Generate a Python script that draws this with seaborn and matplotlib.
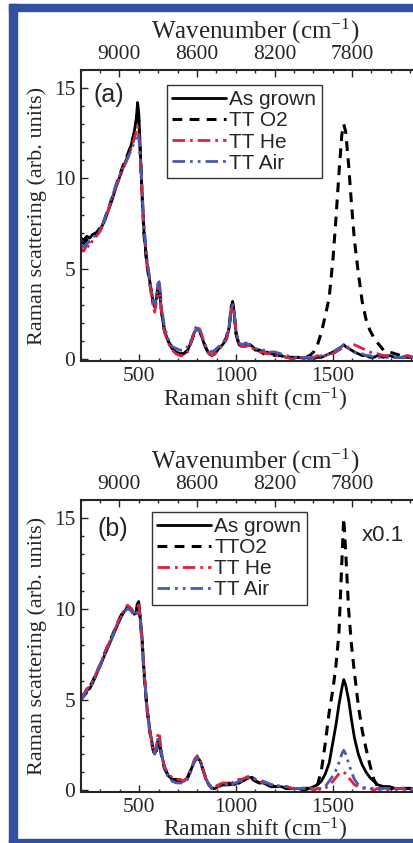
"""Raman spectra of as-grown and thermally treated samples, panels (a) and (b)."""

import matplotlib

matplotlib.use("Agg")
import matplotlib.pyplot as plt
import pandas as pd
import seaborn as sns
from matplotlib.patches import Rectangle
from matplotlib.ticker import FixedLocator, MultipleLocator

LASER_WN = 9398  # 1064 nm excitation, cm-1

SHIFT = [200, 215, 230, 245, 260, 280, 300, 320, 340, 360, 380, 400, 420, 440, 460,
         475, 485, 492, 498, 505, 515, 525, 540, 555, 570, 580, 590, 598, 605, 615,
         630, 650, 670, 690, 710, 730, 750, 770, 785, 800, 815, 830, 845, 860, 875,
         890, 910, 930, 950, 965, 975, 982, 990, 1000, 1015, 1030, 1050, 1070, 1085, 1100,
         1120, 1140, 1160, 1180, 1200, 1230, 1260, 1290, 1320, 1350, 1380, 1400, 1420, 1440, 1460,
         1480, 1500, 1515, 1530, 1545, 1555, 1565, 1580, 1595, 1610, 1630, 1650, 1670, 1690, 1710,
         1730, 1760, 1790, 1820, 1850, 1880, 1910, 1940, 1970, 2000]

# panel (a)
A_GROWN = [6.7, 6.6, 6.8, 6.7, 6.9, 7.0, 7.2, 7.6, 8.2, 8.8, 9.5, 10.1, 10.7, 11.2, 11.9,
           12.6, 13.3, 14.2, 13.6, 11.8, 9.2, 7.0, 5.3, 4.3, 3.3, 3.0, 3.4, 4.0, 3.8, 2.6,
           1.6, 1.0, 0.6, 0.4, 0.3, 0.3, 0.5, 1.0, 1.5, 1.7, 1.5, 1.0, 0.6, 0.3, 0.2,
           0.3, 0.6, 0.8, 1.1, 1.8, 2.8, 3.2, 2.6, 1.4, 0.8, 0.7, 0.8, 0.8, 0.7, 0.5,
           0.5, 0.3, 0.4, 0.3, 0.3, 0.2, 0.1, 0.1, 0.1, 0.05, 0.1, 0.05, 0.1, 0.1, 0.2,
           0.3, 0.4, 0.5, 0.6, 0.7, 0.8, 0.7, 0.6, 0.5, 0.4, 0.3, 0.2, 0.2, 0.1, 0.1,
           0.2, 0.1, 0.2, 0.1, 0.1, 0.1, 0.1, 0.1, 0.1, 0.1]
A_O2 = [6.5, 6.4, 6.6, 6.6, 6.8, 7.0, 7.3, 7.7, 8.3, 8.9, 9.6, 10.2, 10.8, 11.3, 11.9,
        12.5, 13.1, 13.8, 13.2, 11.6, 9.0, 6.9, 5.2, 4.2, 3.2, 2.9, 3.3, 4.1, 3.9, 2.7,
        1.6, 1.0, 0.6, 0.4, 0.3, 0.3, 0.5, 1.0, 1.5, 1.7, 1.5, 1.0, 0.6, 0.3, 0.2,
        0.3, 0.6, 0.8, 1.2, 1.9, 2.9, 3.1, 2.5, 1.4, 0.8, 0.7, 0.8, 0.8, 0.7, 0.5,
        0.5, 0.4, 0.3, 0.3, 0.2, 0.2, 0.1, 0.1, 0.1, 0.1, 0.2, 0.4, 0.8, 1.5, 2.4,
        3.4, 5.6, 7.8, 10.2, 12.4, 13.0, 12.6, 10.8, 8.6, 6.6, 4.8, 3.2, 2.2, 1.6, 1.2,
        0.9, 0.5, 0.4, 0.3, 0.2, 0.2, 0.1, 0.1, 0.1, 0.1]
A_HE = [6.1, 6.0, 6.3, 6.2, 6.6, 6.8, 7.1, 7.6, 8.2, 8.9, 9.5, 10.1, 10.6, 11.1, 11.7,
        12.2, 12.6, 12.9, 12.5, 11.2, 9.0, 7.2, 5.4, 4.2, 3.0, 2.6, 3.2, 4.2, 3.9, 2.7,
        1.5, 0.9, 0.5, 0.3, 0.2, 0.2, 0.4, 1.0, 1.6, 1.9, 1.6, 1.1, 0.6, 0.3, 0.2,
        0.3, 0.5, 0.8, 1.1, 1.8, 2.7, 3.0, 2.5, 1.5, 0.9, 0.7, 0.7, 0.8, 0.6, 0.5,
        0.4, 0.4, 0.3, 0.3, 0.2, 0.2, 0.1, 0.0, 0.1, 0.1, 0.0, 0.1, 0.2, 0.1, 0.2,
        0.3, 0.3, 0.4, 0.5, 0.6, 0.6, 0.6, 0.7, 0.8, 0.8, 0.7, 0.6, 0.5, 0.4, 0.3,
        0.3, 0.2, 0.2, 0.1, 0.1, 0.2, 0.1, 0.1, 0.1, 0.1]
A_AIR = [6.3, 6.2, 6.4, 6.5, 6.7, 6.9, 7.2, 7.7, 8.3, 9.0, 9.6, 10.2, 10.7, 11.1, 11.6,
         12.0, 12.3, 12.5, 12.3, 11.4, 9.4, 7.4, 5.6, 4.4, 3.3, 3.0, 3.6, 4.4, 4.2, 3.0,
         1.8, 1.1, 0.7, 0.6, 0.5, 0.5, 0.7, 1.1, 1.5, 1.7, 1.5, 1.1, 0.7, 0.5, 0.4,
         0.5, 0.7, 0.9, 1.2, 1.9, 2.8, 3.1, 2.6, 1.5, 0.9, 0.8, 0.9, 0.8, 0.7, 0.6,
         0.5, 0.5, 0.5, 0.4, 0.4, 0.3, 0.2, 0.1, 0.1, 0.1, 0.1, 0.1, 0.1, 0.2, 0.2,
         0.3, 0.4, 0.5, 0.6, 0.7, 0.8, 0.8, 0.6, 0.5, 0.4, 0.3, 0.3, 0.2, 0.2, 0.1,
         0.1, 0.1, 0.1, 0.1, 0.1, 0.1, 0.1, 0.0, 0.1, 0.1]

# panel (b)
B_GROWN = [5.1, 5.3, 5.5, 5.6, 5.9, 6.4, 6.9, 7.4, 7.9, 8.4, 8.9, 9.4, 9.8, 10.1, 10.0,
           9.7, 9.8, 10.3, 10.4, 9.6, 8.4, 6.6, 4.6, 3.3, 2.4, 2.0, 2.3, 2.8, 2.7, 2.0,
           1.3, 0.8, 0.6, 0.6, 0.5, 0.5, 0.7, 1.2, 1.6, 1.8, 1.6, 1.1, 0.6, 0.3, 0.1,
           0.1, 0.2, 0.3, 0.3, 0.4, 0.3, 0.4, 0.3, 0.4, 0.4, 0.5, 0.6, 0.7, 0.7, 0.5,
           0.4, 0.4, 0.3, 0.3, 0.2, 0.2, 0.1, 0.1, 0.1, 0.0, 0.1, 0.2, 0.3, 0.5, 0.9,
           1.5, 2.7, 3.6, 4.7, 5.6, 6.1, 5.8, 5.0, 3.9, 2.9, 2.0, 1.4, 1.0, 0.7, 0.5,
           0.3, 0.2, 0.2, 0.1, 0.1, 0.1, 0.1, 0.1, 0.1, 0.1]
B_O2 = [5.0, 5.2, 5.4, 5.7, 6.0, 6.5, 6.9, 7.5, 8.0, 8.5, 9.0, 9.5, 9.9, 10.1, 9.9,
        9.6, 9.7, 10.4, 10.2, 9.4, 8.2, 6.4, 4.5, 3.2, 2.3, 1.9, 2.2, 2.7, 2.6, 1.9,
        1.2, 0.8, 0.6, 0.5, 0.5, 0.5, 0.7, 1.2, 1.6, 1.8, 1.6, 1.1, 0.6, 0.3, 0.1,
        0.1, 0.2, 0.3, 0.3, 0.3, 0.4, 0.3, 0.4, 0.4, 0.4, 0.5, 0.6, 0.7, 0.6, 0.5,
        0.4, 0.3, 0.3, 0.2, 0.2, 0.2, 0.1, 0.1, 0.1, 0.1, 0.1, 0.1, 0.3, 1.1, 2.6,
        4.3, 5.6, 6.9, 8.6, 12.5, 15.0, 13.2, 10.0, 8.0, 6.5, 4.7, 3.3, 2.3, 1.4, 0.6,
        0.2, 0.2, 0.1, 0.1, 0.1, 0.1, 0.1, 0.1, 0.1, 0.1]
B_HE = [5.2, 5.3, 5.6, 5.7, 6.0, 6.5, 7.0, 7.5, 8.0, 8.5, 9.0, 9.5, 9.9, 10.2, 10.0,
        9.6, 9.7, 10.1, 10.2, 9.5, 8.3, 6.5, 4.6, 3.3, 2.3, 2.0, 2.5, 3.2, 3.0, 2.1,
        1.3, 0.9, 0.7, 0.6, 0.6, 0.5, 0.7, 1.2, 1.7, 1.9, 1.7, 1.1, 0.6, 0.3, 0.2,
        0.2, 0.3, 0.4, 0.4, 0.4, 0.5, 0.4, 0.5, 0.5, 0.6, 0.6, 0.7, 0.8, 0.7, 0.6,
        0.5, 0.4, 0.4, 0.3, 0.3, 0.2, 0.2, 0.1, 0.1, 0.1, 0.1, 0.0, 0.1, 0.0, 0.1,
        0.3, 0.5, 0.7, 0.9, 1.0, 1.0, 0.9, 0.7, 0.5, 0.3, 0.2, 0.1, 0.1, 0.1, 0.0,
        0.1, 0.1, 0.0, 0.1, 0.1, 0.0, 0.1, 0.1, 0.1, 0.1]
B_AIR = [5.0, 5.2, 5.5, 5.6, 5.9, 6.4, 6.9, 7.4, 7.9, 8.4, 9.0, 9.4, 9.8, 10.0, 9.9,
         9.7, 9.6, 9.9, 10.0, 9.4, 8.2, 6.5, 4.6, 3.2, 2.4, 2.0, 2.3, 2.9, 2.8, 2.0,
         1.2, 0.7, 0.5, 0.4, 0.4, 0.4, 0.6, 1.1, 1.6, 1.8, 1.6, 1.1, 0.6, 0.3, 0.1,
         0.1, 0.2, 0.2, 0.3, 0.4, 0.3, 0.3, 0.4, 0.4, 0.5, 0.5, 0.6, 0.7, 0.7, 0.6,
         0.5, 0.5, 0.4, 0.3, 0.3, 0.2, 0.2, 0.1, 0.1, 0.1, 0.1, 0.1, 0.1, 0.1, 0.2,
         0.5, 0.8, 1.1, 1.5, 2.0, 2.2, 2.0, 1.5, 1.0, 0.6, 0.3, 0.2, 0.1, 0.1, 0.1,
         0.0, 0.1, 0.1, 0.0, 0.1, 0.1, 0.0, 0.1, 0.1, 0.1]

SERIES_STYLE = [
    ("#000000", "-", 2.0),
    ("#000000", (0, (3.2, 2.4)), 2.2),
    ("#e3203a", (0, (4.5, 1.8, 1, 1.8)), 2.0),
    ("#4a5ab4", (0, (4.5, 1.8, 1, 1.8, 1, 1.8)), 2.0),
]

SERIF = "Liberation Serif"
SANS = "Liberation Sans"


def draw_panel(fig, rect, values, labels, tag, tag_pos, legend_anchor, note=None,
               xlabel_y=None):
    ax = fig.add_axes(rect)
    df = pd.DataFrame({"shift": SHIFT})
    for (col, ls, lw), vals, lab in zip(SERIES_STYLE, values, labels):
        df["y"] = vals
        sns.lineplot(data=df, x="shift", y="y", ax=ax, color=col, linestyle=ls,
                     linewidth=lw, label=lab, sort=True)
    ax.set_xlim(200, 2000)
    ax.set_ylim(-0.1, 16)
    ax.xaxis.set_major_locator(FixedLocator([500, 1000, 1500]))
    ax.xaxis.set_minor_locator(MultipleLocator(100))
    ax.yaxis.set_major_locator(FixedLocator([0, 5, 10, 15]))
    ax.yaxis.set_minor_locator(MultipleLocator(1))
    ax.tick_params(which="both", direction="in", width=1.0, right=True)
    ax.tick_params(which="major", length=5, labelsize=15.5, pad=4)
    ax.tick_params(which="minor", length=2.5)
    for lab in ax.get_xticklabels() + ax.get_yticklabels():
        lab.set_fontfamily(SERIF)
    ax.set_xlabel("Raman shift (cm$^{-1}$)", fontsize=17, family=SERIF, labelpad=0)
    if xlabel_y is not None:
        ax.xaxis.set_label_coords(0.5, xlabel_y)
    ax.set_ylabel("Raman scattering (arb. units)", fontsize=16, family=SERIF, labelpad=5)
    for sp in ax.spines.values():
        sp.set_linewidth(1.5)

    top = ax.twiny()
    top.set_xlim(LASER_WN - 200, LASER_WN - 2000)
    top.xaxis.set_major_locator(FixedLocator([9000, 8600, 8200, 7800]))
    top.xaxis.set_minor_locator(MultipleLocator(100))
    top.tick_params(which="both", direction="in", width=1.0)
    top.tick_params(which="major", length=5, labelsize=15.5, pad=4)
    top.tick_params(which="minor", length=2.5)
    for lab in top.get_xticklabels():
        lab.set_fontfamily(SERIF)
    top.set_xlabel("Wavenumber (cm$^{-1}$)", fontsize=18, family=SERIF, labelpad=5)

    ax.text(tag_pos[0], tag_pos[1], tag, transform=ax.transAxes, fontsize=18,
            family=SANS, va="center", ha="left")
    if note:
        ax.text(note[1][0], note[1][1], note[0], transform=ax.transAxes, fontsize=16,
                family=SANS, va="center", ha="left")

    leg = ax.legend(loc="upper left", bbox_to_anchor=legend_anchor, borderaxespad=0,
                    prop={"family": SANS, "size": 15}, frameon=True, fancybox=False,
                    handlelength=2.6, handletextpad=0.15, labelspacing=0.1,
                    borderpad=0.25, framealpha=1)
    leg.get_frame().set_edgecolor("#333333")
    leg.get_frame().set_linewidth(1.0)
    return ax


def main():
    sns.set_theme(style="ticks")
    plt.rcParams["font.family"] = [SERIF, "DejaVu Sans"]
    plt.rcParams["mathtext.fontset"] = "custom"
    plt.rcParams["mathtext.rm"] = SERIF
    plt.rcParams["mathtext.it"] = SERIF

    fig = plt.figure(figsize=(4.14, 8.43), dpi=100)
    fig.patch.set_facecolor("white")

    draw_panel(fig, [81 / 414, 1 - 361 / 843, 349 / 414, 291 / 843],
               [A_GROWN, A_O2, A_HE, A_AIR],
               ["As grown", "TT O2", "TT He", "TT Air"],
               "(a)", (0.035, 0.915), (0.246, 0.948))
    draw_panel(fig, [81 / 414, 1 - 792 / 843, 349 / 414, 292 / 843],
               [B_GROWN, B_O2, B_HE, B_AIR],
               ["As grown", "TTO2", "TT He", "TT Air"],
               "(b)", (0.047, 0.90), (0.203, 0.959),
               note=("x0.1", (0.805, 0.88)), xlabel_y=-0.082)

    blue = "#3050a0"
    W, H = 414, 843
    fig.patches.append(Rectangle((9 / W, 0), 8 / W, 1 - 4 / H, transform=fig.transFigure,
                                 color=blue, zorder=10))
    fig.patches.append(Rectangle((9 / W, 1 - 11 / H), 1, 7 / H, transform=fig.transFigure,
                                 color=blue, zorder=10))
    fig.patches.append(Rectangle((9 / W, 0), 1, 4 / H, transform=fig.transFigure,
                                 color=blue, zorder=10))

    fig.savefig("out.png", dpi=100, facecolor="white")


if __name__ == "__main__":
    main()
